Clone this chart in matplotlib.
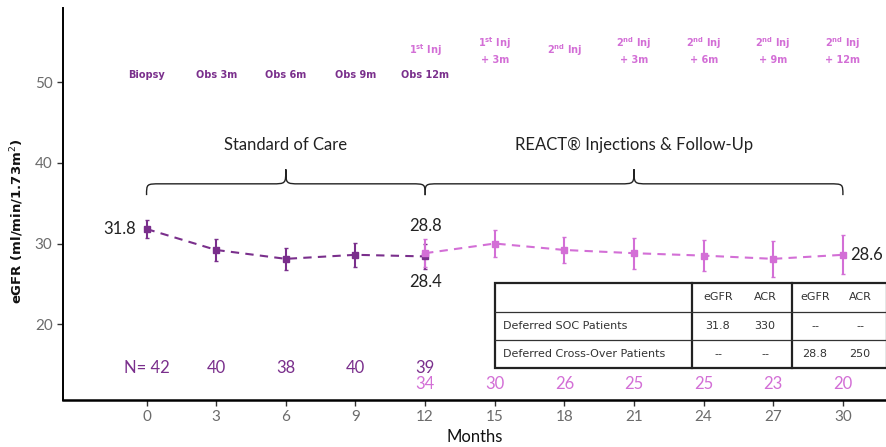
import numpy as np
import matplotlib.pyplot as plt
from matplotlib.path import Path
from matplotlib.patches import PathPatch

# eGFR over time, two phases
soc_months = [0, 3, 6, 9, 12]
soc_egfr = [31.8, 29.2, 28.1, 28.6, 28.4]
soc_err = [1.1, 1.4, 1.4, 1.5, 1.6]
soc_n = [42, 40, 38, 40, 39]
soc_visits = ["Biopsy", "Obs 3m", "Obs 6m", "Obs 9m", "Obs 12m"]

inj_months = [12, 15, 18, 21, 24, 27, 30]
inj_egfr = [28.8, 30.0, 29.2, 28.8, 28.5, 28.1, 28.6]
inj_err = [1.7, 1.7, 1.6, 1.9, 1.9, 2.2, 2.4]
inj_n = [34, 30, 26, 25, 25, 23, 20]
inj_visits = [r"1$^{\mathbf{st}}$ Inj", "1$^{\\mathbf{st}}$ Inj\n+ 3m", r"2$^{\mathbf{nd}}$ Inj",
              "2$^{\\mathbf{nd}}$ Inj\n+ 3m", "2$^{\\mathbf{nd}}$ Inj\n+ 6m",
              "2$^{\\mathbf{nd}}$ Inj\n+ 9m", "2$^{\\mathbf{nd}}$ Inj\n+ 12m"]

phases = [(0, 12, "Standard of Care"), (12, 30, "REACT® Injections & Follow-Up")]

table_cols = ["", "eGFR", "ACR", "eGFR", "ACR"]
table_rows = [["Deferred SOC Patients", "31.8", "330", "--", "--"],
              ["Deferred Cross-Over Patients", "--", "--", "28.8", "250"]]

dark = "#7a2f8c"
light = "#d36fd6"
grey = "#6b6b6b"

plt.rcParams['font.family'] = ['Lato', 'DejaVu Sans']

fig = plt.figure(figsize=(8.87, 4.47), dpi=100)
ax = fig.add_axes([63 / 887, 1 - 400 / 447, 1 - 63 / 887, 392 / 447])
ax.set_xlim(-3.6, 31.9)
ax.set_ylim(10.6, 59.2)


def brace(ax, x0, x1, y_end, y_bar, y_tip, curl=0.6, color="#222222"):
    xc = (x0 + x1) / 2
    verts = [(x0, y_end),
             (x0, y_bar), (x0, y_bar), (x0 + curl, y_bar),
             (xc - curl, y_bar),
             (xc, y_bar), (xc, y_bar), (xc, y_tip),
             (xc, y_bar), (xc, y_bar), (xc + curl, y_bar),
             (x1 - curl, y_bar),
             (x1, y_bar), (x1, y_bar), (x1, y_end)]
    codes = [Path.MOVETO,
             Path.CURVE4, Path.CURVE4, Path.CURVE4,
             Path.LINETO,
             Path.CURVE4, Path.CURVE4, Path.CURVE4,
             Path.CURVE4, Path.CURVE4, Path.CURVE4,
             Path.LINETO,
             Path.CURVE4, Path.CURVE4, Path.CURVE4]
    ax.add_patch(PathPatch(Path(verts, codes), fill=False, lw=1.0, color=color))


# series
ax.errorbar(soc_months, soc_egfr, yerr=soc_err, color=dark, ls=(0, (4, 3)), lw=1.5,
            marker="s", ms=5, capsize=1.5, elinewidth=1.5, zorder=3)
ax.errorbar(inj_months, inj_egfr, yerr=inj_err, color=light, ls=(0, (4, 3)), lw=1.5,
            marker="s", ms=5, capsize=1.5, elinewidth=1.5, zorder=3)

# value labels
ax.text(soc_months[0] - 0.45, soc_egfr[0], f"{soc_egfr[0]:.1f}", ha="right", va="center",
        fontsize=12, color="#222222")
ax.text(inj_months[0], inj_egfr[0] + 2.4, f"{inj_egfr[0]:.1f}", ha="center", va="bottom",
        fontsize=12, color="#222222")
ax.text(soc_months[-1], soc_egfr[-1] - 2.2, f"{soc_egfr[-1]:.1f}", ha="center", va="top",
        fontsize=12, color="#222222")
ax.text(inj_months[-1] + 0.3, inj_egfr[-1], f"{inj_egfr[-1]:.1f}", ha="left", va="center",
        fontsize=12, color="#222222")

# phase braces
for x0, x1, label in phases:
    brace(ax, x0, x1, 36.0, 37.4, 39.2)
    ax.text((x0 + x1) / 2, 42.2, label, ha="center", va="center", fontsize=12, color="#222222")

# visit labels
for m, v in zip(soc_months, soc_visits):
    ax.text(m, 50.9, v, ha="center", va="center", fontsize=7, fontweight="bold",
            color=dark, family="DejaVu Sans")
for m, v in zip(inj_months, inj_visits):
    ax.text(m, 54.0, v, ha="center", va="center", fontsize=7, fontweight="bold",
            color=light, family="DejaVu Sans", linespacing=1.45)

# number at risk
for i, (m, n) in enumerate(zip(soc_months, soc_n)):
    ax.text(m, 14.6, ("N= " if i == 0 else "") + str(n), ha="center",
            va="center", fontsize=12, color=dark)
for m, n in zip(inj_months, inj_n):
    ax.text(m, 12.6, str(n), ha="center", va="center", fontsize=12, color=light)

# axes styling
for s in ["top", "right"]:
    ax.spines[s].set_visible(False)
ax.spines["left"].set_linewidth(1.4)
ax.spines["bottom"].set_linewidth(1.8)
ax.set_xticks(range(0, 31, 3))
ax.set_yticks([20, 30, 40, 50])
ax.tick_params(axis="both", colors="#333333", labelcolor=grey, labelsize=11, length=4, width=1)
ax.set_xlabel("Months", fontsize=12, color="#111111", labelpad=3)
ax.set_ylabel("eGFR (ml/min/1.73m$^2$)", fontsize=9.5, fontweight="bold", color="#111111",
              family="DejaVu Sans")
ax.yaxis.set_label_coords(-0.045, 0.455)

# summary table drawn in figure pixels
W, H = 887, 447
col_x = [495, 692, 792, 887]
row_y = [283, 312, 340, 368]
tr = fig.transFigure
fx = lambda x: x / W
fy = lambda y: 1 - y / H
fig.patches.append(plt.Rectangle((fx(495), fy(368)), fx(887) - fx(495), fy(283) - fy(368),
                                 transform=tr, facecolor="white", edgecolor="#222222", lw=1.6))
for x in col_x[1:3]:
    fig.add_artist(plt.Line2D([fx(x), fx(x)], [fy(283), fy(368)], transform=tr,
                              color="#222222", lw=1.6))
for y in row_y[1:3]:
    fig.add_artist(plt.Line2D([fx(495), fx(887)], [fy(y), fy(y)], transform=tr,
                              color="#333333", lw=0.9))
cell_cx = [None, 718, 765, 815, 860]
for r, row in enumerate([table_cols] + table_rows):
    yc = (row_y[r] + row_y[r + 1]) / 2
    for c, txt in enumerate(row):
        if not txt:
            continue
        if c == 0:
            fig.text(fx(503), fy(yc), txt, ha="left", va="center", fontsize=8,
                     color="#333333", family="DejaVu Sans")
        else:
            fig.text(fx(cell_cx[c]), fy(yc), txt, ha="center", va="center", fontsize=8,
                     color="#333333", family="DejaVu Sans")

fig.savefig("out.png", dpi=100)
